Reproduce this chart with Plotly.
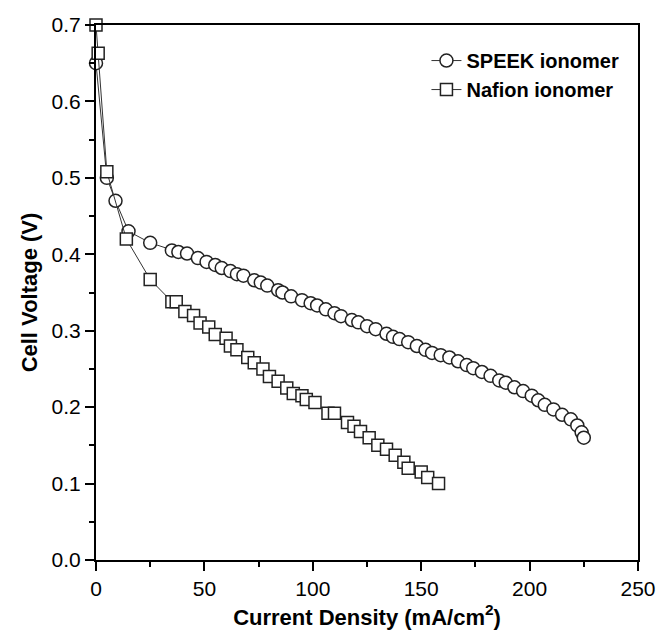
import plotly.graph_objects as go

speek_x = [0, 5, 9, 15, 25, 35, 38, 42, 47, 51, 55, 58, 62, 65, 68, 73, 76, 79, 84, 86, 90, 95, 99, 102,
           106, 110, 113, 118, 121, 125, 129, 134, 137, 140, 144, 148, 152, 155, 159, 163, 167, 171, 174,
           178, 182, 186, 189, 193, 197, 201, 204, 207, 211, 215, 219, 222, 224, 225]
speek_y = [0.65, 0.50, 0.47, 0.43, 0.415, 0.405, 0.403, 0.401, 0.395, 0.39, 0.386, 0.382, 0.378, 0.374,
           0.372, 0.366, 0.363, 0.359, 0.353, 0.35, 0.345, 0.34, 0.336, 0.333, 0.328, 0.323, 0.319, 0.314,
           0.311, 0.306, 0.302, 0.296, 0.292, 0.289, 0.285, 0.28, 0.275, 0.271, 0.268, 0.265, 0.26, 0.255,
           0.251, 0.246, 0.241, 0.235, 0.232, 0.226, 0.221, 0.215, 0.209, 0.203, 0.197, 0.19, 0.184, 0.176,
           0.167, 0.16]

nafion_x = [0, 1, 5, 14, 25, 35, 37, 41, 45, 48, 52, 55, 60, 62, 65, 70, 73, 77, 80, 84, 88, 91, 95, 97,
            101, 107, 110, 116, 119, 122, 126, 130, 134, 138, 142, 144, 150, 153, 158]
nafion_y = [0.70, 0.663, 0.508, 0.42, 0.367, 0.338, 0.338, 0.325, 0.32, 0.31, 0.305, 0.295, 0.29, 0.28,
            0.275, 0.265, 0.258, 0.25, 0.24, 0.234, 0.225, 0.218, 0.215, 0.21, 0.206, 0.192, 0.192, 0.18,
            0.175, 0.168, 0.16, 0.15, 0.145, 0.137, 0.128, 0.12, 0.115, 0.108, 0.10]

x_ticks = [0, 50, 100, 150, 200, 250]
y_ticks = [0.0, 0.1, 0.2, 0.3, 0.4, 0.5, 0.6, 0.7]

FONT = "Liberation Sans, Arial"

fig = go.Figure()
fig.add_trace(go.Scatter(
    x=speek_x, y=speek_y, mode="lines+markers", name="<b>SPEEK ionomer</b>",
    line=dict(color="#333333", width=1),
    marker=dict(symbol="circle", size=13, color="white", line=dict(color="#222222", width=1.5)),
    cliponaxis=False,
))
fig.add_trace(go.Scatter(
    x=nafion_x, y=nafion_y, mode="lines+markers", name="<b>Nafion ionomer</b>",
    line=dict(color="#333333", width=1),
    marker=dict(symbol="square", size=12, color="white", line=dict(color="#222222", width=1.5)),
    cliponaxis=False,
))

axis_common = dict(
    showline=True, linecolor="black", linewidth=2, mirror=True,
    ticks="outside", ticklen=9, tickwidth=2, tickcolor="black",
    showgrid=False, zeroline=False, automargin=False,
    tickfont=dict(family=FONT, size=21, color="black"),
)

fig.update_xaxes(
    range=[0, 250], tickvals=x_ticks, ticktext=[str(v) for v in x_ticks],
    minor=dict(ticks="outside", ticklen=5, tickwidth=2, tickcolor="black", dtick=25, tick0=0),
    title=dict(text="<b>Current Density (mA/cm<sup>2</sup>)</b>",
               font=dict(family=FONT, size=22, color="black"), standoff=10),
    **axis_common,
)
fig.update_yaxes(
    range=[0, 0.7], tickvals=y_ticks, ticktext=[f"{v:.1f}" for v in y_ticks],
    minor=dict(ticks="outside", ticklen=5, tickwidth=2, tickcolor="black", dtick=0.05, tick0=0),
    title=dict(text="<b>Cell Voltage (V)</b>",
               font=dict(family=FONT, size=22, color="black"), standoff=8),
    **axis_common,
)

fig.update_layout(
    width=659, height=637,
    margin=dict(l=96, r=21, t=25, b=77),
    paper_bgcolor="white", plot_bgcolor="white",
    showlegend=True,
    legend=dict(
        x=0.975, y=0.97, xanchor="right", yanchor="top",
        bgcolor="rgba(0,0,0,0)", borderwidth=0,
        font=dict(family=FONT, size=20, color="black"),
        itemsizing="trace", tracegroupgap=0,
    ),
)

fig.write_html("out.html")
